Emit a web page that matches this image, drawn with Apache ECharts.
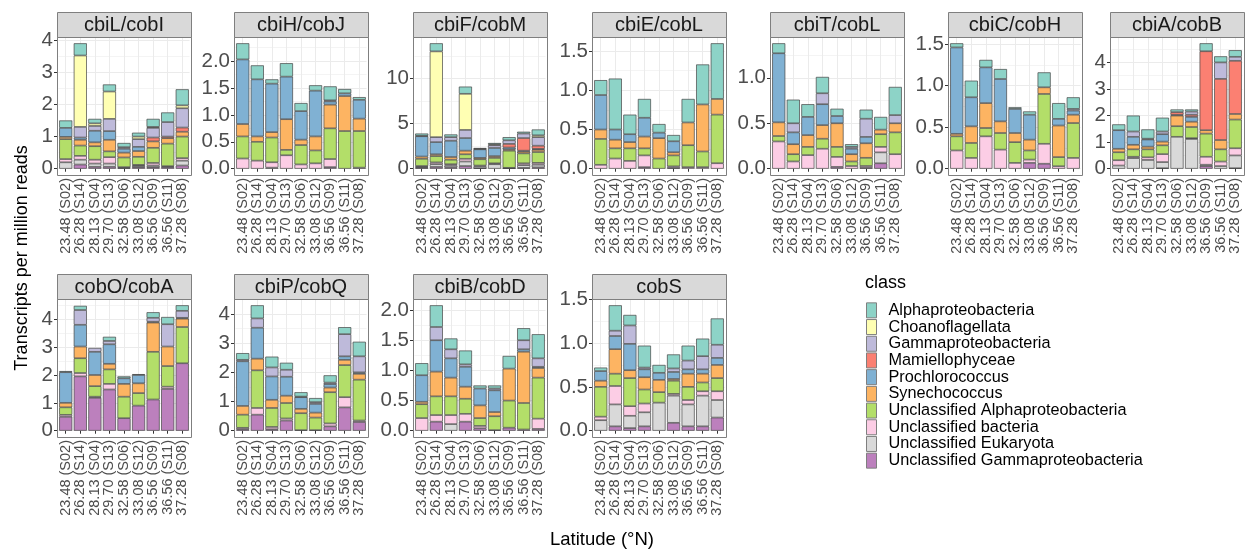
<!DOCTYPE html>
<html>
<head>
<meta charset="utf-8">
<script src="https://cdn.jsdelivr.net/npm/echarts@6/dist/echarts.min.js"></script>
<style>
html, body { margin: 0; padding: 0; background: #ffffff; }
#chart { width: 1248px; height: 554px; }
</style>
</head>
<body>
<div id="chart"></div>
<script>
// Sampling stations, ordered by latitude
const stations = ['23.48 (S02)', '26.28 (S14)', '28.13 (S04)', '29.70 (S13)', '32.58 (S06)',
                  '33.08 (S12)', '36.56 (S09)', '36.56 (S11)', '37.28 (S08)'];

// Taxonomic classes (legend order, top of each stack first)
const classes = ['Alphaproteobacteria', 'Choanoflagellata', 'Gammaproteobacteria', 'Mamiellophyceae',
                 'Prochlorococcus', 'Synechococcus', 'Unclassified Alphaproteobacteria',
                 'Unclassified bacteria', 'Unclassified Eukaryota', 'Unclassified Gammaproteobacteria'];
const classKeys = ['alpha', 'choano', 'gamma', 'mamiello', 'prochloro', 'synecho', 'uAlpha', 'uBact', 'uEuk', 'uGamma'];
const classColors = ['#8DD3C7', '#FFFFB3', '#BEBADA', '#FB8072', '#80B1D3', '#FDB462', '#B3DE69', '#FCCDE5', '#D9D9D9', '#BC80BD'];

const zero9 = [0, 0, 0, 0, 0, 0, 0, 0, 0];

// Transcripts per million reads, one array per class per gene
const cbiL_cobI = {
  alpha:     [0.23, 0.38, 0.14, 0.22, 0.13, 0.12, 0.25, 0.30, 0.50],
  choano:    [0, 2.22, 0.08, 0.85, 0, 0.08, 0.03, 0, 0.09],
  gamma:     [0, 0.33, 0.15, 0.38, 0.05, 0.24, 0.30, 0.45, 0.60],
  mamiello:  [0, 0, 0, 0, 0, 0, 0.12, 0.05, 0.13],
  prochloro: [0.28, 0.07, 0.36, 0.27, 0.12, 0.13, 0, 0, 0],
  synecho:   [0.07, 0.18, 0.12, 0.36, 0.15, 0.18, 0.20, 0.17, 0.15],
  uAlpha:    [0.62, 0.32, 0.42, 0.18, 0.30, 0.25, 0.47, 0.70, 0.67],
  uBact:     [0.10, 0.12, 0.12, 0.20, 0.03, 0.03, 0.08, 0, 0.08],
  uEuk:      [0.20, 0.15, 0.10, 0.10, 0, 0.04, 0.05, 0.03, 0.15],
  uGamma:    [0, 0.13, 0.06, 0.06, 0.02, 0.05, 0.05, 0.05, 0.10]
};
const cbiH_cobJ = {
  alpha:     [0.30, 0.26, 0.08, 0.25, 0.15, 0.10, 0.26, 0.08, 0.05],
  choano:    zero9,
  gamma:     [0, 0, 0, 0, 0, 0, 0.02, 0, 0],
  mamiello:  zero9,
  prochloro: [1.20, 1.06, 0.90, 0.79, 0.53, 0.85, 0.06, 0.05, 0.35],
  synecho:   [0.23, 0.10, 0.10, 0.57, 0.10, 0.26, 0.44, 0.65, 0.23],
  uAlpha:    [0.41, 0.35, 0.46, 0.10, 0.36, 0.24, 0.57, 0.70, 0.68],
  uBact:     [0.19, 0.15, 0.10, 0.25, 0.08, 0.10, 0.15, 0, 0.02],
  uEuk:      [0, 0, 0.02, 0, 0, 0, 0, 0, 0],
  uGamma:    [0, 0, 0, 0, 0, 0, 0.03, 0, 0]
};
const cbiF_cobM = {
  alpha:     [0.25, 0.90, 0.30, 0.80, 0.10, 0.15, 0.35, 0.20, 0.65],
  choano:    [0, 9.50, 0, 4.00, 0, 0.10, 0, 0, 0.20],
  gamma:     [0.05, 0.55, 0.40, 0.90, 0.05, 0.30, 0.40, 0.50, 0.95],
  mamiello:  [0, 0, 0, 0, 0, 0, 0.40, 1.40, 0.35],
  prochloro: [2.25, 1.35, 1.80, 1.40, 0.95, 0.90, 0.20, 0.10, 0.10],
  synecho:   [0.25, 0.20, 0.30, 0.40, 0.15, 0.20, 0.15, 0.20, 0.25],
  uAlpha:    [0.80, 0.70, 0.50, 0.50, 0.70, 0.60, 1.90, 1.10, 1.20],
  uBact:     [0.10, 0.20, 0.15, 0.30, 0.10, 0.10, 0, 0.20, 0.20],
  uEuk:      [0.10, 0.30, 0.20, 0.50, 0.20, 0.50, 0.05, 0.30, 0.30],
  uGamma:    [0.10, 0.20, 0.15, 0.30, 0.05, 0, 0.05, 0.10, 0.15]
};
const cbiE_cobL = {
  alpha:     [0.19, 0.65, 0.25, 0.24, 0.11, 0.08, 0.30, 0.51, 0.71],
  choano:    zero9,
  gamma:     zero9,
  mamiello:  zero9,
  prochloro: [0.44, 0.13, 0.10, 0.24, 0.07, 0.14, 0, 0, 0],
  synecho:   [0.12, 0.11, 0.08, 0.15, 0.26, 0.04, 0.29, 0.60, 0.20],
  uAlpha:    [0.33, 0.13, 0.16, 0.09, 0.13, 0.14, 0.28, 0.20, 0.62],
  uBact:     [0.05, 0.13, 0.10, 0.15, 0, 0.02, 0.02, 0.02, 0.07],
  uEuk:      zero9,
  uGamma:    [0, 0, 0, 0.02, 0, 0.01, 0, 0, 0]
};
const cbiT_cobL = {
  alpha:     [0.11, 0.26, 0.14, 0.18, 0.08, 0.03, 0.10, 0.14, 0.31],
  choano:    zero9,
  gamma:     [0, 0.10, 0, 0.12, 0, 0.02, 0.20, 0, 0.09],
  mamiello:  zero9,
  prochloro: [0.76, 0.13, 0.20, 0.23, 0.08, 0.06, 0.07, 0, 0],
  synecho:   [0.15, 0.11, 0.13, 0.15, 0.26, 0.08, 0.16, 0.05, 0.10],
  uAlpha:    [0.06, 0.08, 0.09, 0.11, 0.11, 0.05, 0.09, 0.14, 0.24],
  uBact:     [0.30, 0.08, 0.15, 0.22, 0.11, 0.03, 0.02, 0.06, 0.16],
  uEuk:      [0, 0, 0, 0, 0, 0, 0, 0.12, 0],
  uGamma:    [0, 0, 0, 0, 0.02, 0, 0.01, 0.06, 0]
};
const cbiC_cobH = {
  alpha:     [0.05, 0.20, 0.09, 0.12, 0.02, 0.04, 0.18, 0.19, 0.14],
  choano:    zero9,
  gamma:     [0, 0, 0, 0, 0, 0, 0, 0, 0.02],
  mamiello:  zero9,
  prochloro: [1.04, 0.35, 0.43, 0.51, 0.29, 0.30, 0, 0.08, 0.05],
  synecho:   [0.03, 0.20, 0.30, 0.14, 0.11, 0.13, 0.08, 0.38, 0.10],
  uAlpha:    [0.17, 0.18, 0.10, 0.20, 0.25, 0.11, 0.60, 0.11, 0.42],
  uBact:     [0.22, 0.13, 0.39, 0.23, 0.07, 0.04, 0.24, 0.03, 0.13],
  uEuk:      zero9,
  uGamma:    [0, 0, 0, 0, 0, 0.07, 0.06, 0, 0]
};
const cbiA_cobB = {
  alpha:     [0.22, 0.60, 0.35, 0.52, 0.10, 0.08, 0.30, 0.23, 0.25],
  choano:    zero9,
  gamma:     [0, 0.20, 0, 0.10, 0, 0.12, 0, 0.62, 0.15],
  mamiello:  [0, 0, 0.03, 0, 0.10, 0.08, 2.97, 2.30, 2.00],
  prochloro: [0.70, 0.30, 0.27, 0.28, 0.03, 0.18, 0, 0, 0],
  synecho:   [0.13, 0.17, 0.10, 0.14, 0.40, 0.20, 0.13, 0.35, 0.21],
  uAlpha:    [0.30, 0.28, 0.30, 0.33, 0.40, 0.42, 0.87, 0.46, 1.08],
  uBact:     [0.20, 0.05, 0.10, 0.30, 0, 0.03, 0.30, 0.17, 0.27],
  uEuk:      [0.12, 0.40, 0.33, 0.23, 1.20, 1.12, 0.05, 0.10, 0.48],
  uGamma:    [0, 0, 0, 0.02, 0, 0, 0.10, 0, 0.02]
};
const cobO_cobA = {
  alpha:     [0.04, 0.15, 0, 0.15, 0.07, 0.03, 0.20, 0.26, 0.20],
  choano:    zero9,
  gamma:     [0, 0.53, 0.14, 0.12, 0, 0, 0.14, 0.80, 0.25],
  mamiello:  zero9,
  prochloro: [1.10, 0.78, 0.83, 0.70, 0.20, 0.30, 0.03, 0, 0.03],
  synecho:   [0.16, 0.42, 0.40, 0.20, 0.46, 0.35, 1.05, 0.70, 0.30],
  uAlpha:    [0.27, 0.53, 0.38, 0.52, 0.77, 0.45, 1.71, 0.74, 1.30],
  uBact:     [0.07, 0.12, 0.04, 0.20, 0, 0, 0, 0.08, 0],
  uEuk:      zero9,
  uGamma:    [0.50, 1.95, 1.18, 1.48, 0.45, 0.90, 1.12, 1.50, 2.42]
};
const cbiP_cobQ = {
  alpha:     [0.23, 0.45, 0.37, 0.24, 0.15, 0.14, 0.25, 0.24, 0.50],
  choano:    zero9,
  gamma:     [0.05, 0.32, 0.31, 0.24, 0.02, 0.06, 0.05, 0.76, 0.55],
  mamiello:  zero9,
  prochloro: [1.53, 1.06, 0.80, 0.65, 0.40, 0.30, 0.12, 0.12, 0.05],
  synecho:   [0.30, 0.40, 0.28, 0.25, 0.15, 0.17, 0.16, 0.18, 0.20],
  uAlpha:    [0.45, 1.29, 0.65, 0.53, 0.58, 0.43, 1.07, 1.10, 1.40],
  uBact:     [0.05, 0.23, 0.08, 0.07, 0, 0, 0.10, 0.35, 0.05],
  uEuk:      zero9,
  uGamma:    [0.05, 0.55, 0.05, 0.35, 0.02, 0.02, 0.15, 0.80, 0.30]
};
const cbiB_cobD = {
  alpha:     [0.20, 0.36, 0.18, 0.23, 0.05, 0.05, 0.21, 0.20, 0.40],
  choano:    zero9,
  gamma:     [0, 0.22, 0.15, 0.04, 0, 0.03, 0, 0.15, 0.14],
  mamiello:  zero9,
  prochloro: [0.44, 0.52, 0.32, 0.33, 0.28, 0.36, 0, 0.04, 0.02],
  synecho:   [0.04, 0.41, 0.31, 0.20, 0.21, 0.07, 0.53, 0.85, 0.16],
  uAlpha:    [0.23, 0.31, 0.31, 0.25, 0.13, 0.23, 0.45, 0.44, 0.68],
  uBact:     [0.21, 0.11, 0.15, 0.13, 0.04, 0, 0, 0, 0.17],
  uEuk:      [0, 0, 0.11, 0, 0, 0, 0, 0, 0],
  uGamma:    [0, 0.15, 0, 0.15, 0.04, 0.01, 0.05, 0.02, 0.03]
};
const cobS = {
  alpha:     [0.04, 0.29, 0.12, 0.25, 0.09, 0.16, 0.17, 0.20, 0.30],
  choano:    zero9,
  gamma:     [0, 0.06, 0.21, 0.02, 0, 0.04, 0.10, 0.15, 0.15],
  mamiello:  zero9,
  prochloro: [0.11, 0.15, 0.30, 0.09, 0.08, 0.08, 0.05, 0.05, 0.08],
  synecho:   [0.07, 0.28, 0.09, 0.14, 0.14, 0.02, 0.15, 0.10, 0.15],
  uAlpha:    [0.34, 0.14, 0.32, 0.16, 0.12, 0.15, 0.15, 0.10, 0.15],
  uBact:     [0.04, 0.21, 0.11, 0.10, 0, 0.02, 0.05, 0.05, 0.10],
  uEuk:      [0.12, 0.25, 0.14, 0.16, 0.32, 0.31, 0.25, 0.35, 0.20],
  uGamma:    [0, 0.05, 0.03, 0.05, 0, 0.09, 0.05, 0.05, 0.15]
};

// Facets in reading order, with the major tick step of each free y scale
const panelTitles = ['cbiL/cobI', 'cbiH/cobJ', 'cbiF/cobM', 'cbiE/cobL', 'cbiT/cobL', 'cbiC/cobH', 'cbiA/cobB',
                     'cobO/cobA', 'cbiP/cobQ', 'cbiB/cobD', 'cobS'];
const panelValues = [cbiL_cobI, cbiH_cobJ, cbiF_cobM, cbiE_cobL, cbiT_cobL, cbiC_cobH, cbiA_cobB,
                     cobO_cobA, cbiP_cobQ, cbiB_cobD, cobS];
const yTickSteps = [1, 0.5, 5, 0.5, 0.5, 0.5, 1, 1, 1, 0.5, 0.5];

// Facet layout
const FONT = "'Liberation Sans', Arial, Helvetica, sans-serif";
const colLeft = [57, 234, 413, 592, 770, 948, 1110];
const rowTop = [12, 274];
const panelW = 134, stripH = 25, plotH = 138;
const nCols = 7;

const grids = [], xAxes = [], yAxes = [], series = [], graphics = [];

panelValues.forEach(function (vals, i) {
  const col = i % nCols, row = Math.floor(i / nCols);
  const left = colLeft[col], top = rowTop[row];
  const plotTop = top + stripH;
  const unit = panelW / 9.2;                 // discrete scale: 0.6 units of padding each side
  const gLeft = left + 0.1 * unit;
  const gWidth = 9 * unit;
  const totals = stations.map(function (_, k) {
    return classKeys.reduce(function (s, c) { return s + vals[c][k]; }, 0);
  });
  const tMax = Math.max.apply(null, totals);
  const yTop = tMax * 1.05;                  // 5% expansion above the tallest stack
  const inset = plotH * 0.05 / 1.1;          // and 5% below zero
  const dataH = plotH - inset;
  const bottomY = plotTop + dataH;
  const step = yTickSteps[i];
  const digits = step < 1 ? 1 : 0;
  const labelTop = step * Math.floor(yTop / step + 1e-9);
  const half = step / 2;
  const gridTop = half * Math.floor(yTop / half + 1e-9);

  const gBase = grids.length;
  // data grid
  grids.push({ left: gLeft, top: plotTop, width: gWidth, height: dataH });
  // grid holding the labelled (major) axis
  grids.push({ left: gLeft, top: bottomY - dataH * labelTop / yTop, width: gWidth, height: dataH * labelTop / yTop });
  // grid holding the major + minor gridlines
  grids.push({ left: gLeft, top: bottomY - dataH * gridTop / yTop, width: gWidth, height: dataH * gridTop / yTop });

  xAxes.push({
    type: 'category', gridIndex: gBase, data: stations, offset: inset,
    axisLine: { show: false },
    axisTick: { show: true, alignWithLabel: true, length: 3, lineStyle: { color: '#333333', width: 1 } },
    axisLabel: { rotate: 90, interval: 0, fontSize: 14.5, color: '#4D4D4D', margin: 3, fontFamily: FONT },
    splitLine: { show: true, alignWithLabel: true, lineStyle: { color: '#EBEBEB', width: 1 } }
  });
  xAxes.push({ type: 'category', gridIndex: gBase + 1, data: stations, show: false });
  xAxes.push({ type: 'category', gridIndex: gBase + 2, data: stations, show: false });

  yAxes.push({
    type: 'value', gridIndex: gBase, min: 0, max: yTop, show: false
  });
  yAxes.push({
    type: 'value', gridIndex: gBase + 1, min: 0, max: labelTop, interval: step,
    position: 'left', offset: 0.1 * unit,
    axisLine: { show: false },
    axisTick: { show: true, length: 3, lineStyle: { color: '#333333', width: 1 } },
    splitLine: { show: false },
    axisLabel: {
      fontSize: 20.5, color: '#4D4D4D', margin: 4, fontFamily: FONT,
      formatter: function (v) { return v.toFixed(digits); }
    }
  });
  yAxes.push({
    type: 'value', gridIndex: gBase + 2, min: 0, max: gridTop, interval: half,
    axisLine: { show: false }, axisTick: { show: false }, axisLabel: { show: false },
    splitLine: { show: true, lineStyle: { color: ['#EBEBEB', '#F4F4F4'], width: 1 } }
  });

  // stacks are built bottom-up: last legend class at the base
  for (let c = classes.length - 1; c >= 0; c--) {
    series.push({
      type: 'bar', name: classes[c], stack: 'facet' + i,
      xAxisIndex: gBase, yAxisIndex: gBase,
      barCategoryGap: '10%',
      data: vals[classKeys[c]].map(function (v) { return v > 0 ? v : null; }),
      itemStyle: { color: classColors[c], borderColor: '#454545', borderWidth: 0.7 },
      emphasis: { disabled: true },
      silent: true
    });
  }

  // strip with facet title
  graphics.push({
    type: 'rect', z: 100,
    shape: { x: left + 0.5, y: top + 0.5, width: panelW, height: stripH },
    style: { fill: '#D9D9D9', stroke: '#7F7F7F', lineWidth: 1 }
  });
  graphics.push({
    type: 'text', z: 101, x: left + panelW / 2, y: top + stripH / 2 + 1,
    style: { text: panelTitles[i], fontSize: 20, fill: '#1A1A1A', fontFamily: FONT, align: 'center', verticalAlign: 'middle' }
  });
  // panel border drawn over the bars
  graphics.push({
    type: 'rect', z: 100,
    shape: { x: left + 0.5, y: plotTop + 0.5, width: panelW, height: plotH },
    style: { fill: 'none', stroke: '#7F7F7F', lineWidth: 1 }
  });
});

// axis titles and legend title
graphics.push({
  type: 'text', z: 101, x: 22, y: 258, rotation: Math.PI / 2,
  style: { text: 'Transcripts per million reads', fontSize: 18, fill: '#000000', fontFamily: FONT, align: 'center', verticalAlign: 'middle' }
});
graphics.push({
  type: 'text', z: 101, x: 602, y: 540,
  style: { text: 'Latitude (°N)', fontSize: 18.5, fill: '#000000', fontFamily: FONT, align: 'center', verticalAlign: 'middle' }
});
graphics.push({
  type: 'text', z: 101, x: 865, y: 283,
  style: { text: 'class', fontSize: 18, fill: '#000000', fontFamily: FONT, align: 'left', verticalAlign: 'middle' }
});

const chart = echarts.init(document.getElementById('chart'), null, { renderer: 'canvas' });
chart.setOption({
  animation: false,
  backgroundColor: '#ffffff',
  grid: grids,
  xAxis: xAxes,
  yAxis: yAxes,
  series: series,
  graphic: graphics,
  legend: {
    orient: 'vertical', left: 866, top: 302, padding: 0,
    data: classes, icon: 'rect', selectedMode: false,
    itemWidth: 10, itemHeight: 15, itemGap: 0,
    itemStyle: { borderColor: '#7F7F7F', borderWidth: 1 },
    textStyle: { fontSize: 16.3, color: '#000000', fontFamily: FONT, lineHeight: 16.7, padding: [0, 0, 0, 7] }
  }
});
</script>
</body>
</html>
